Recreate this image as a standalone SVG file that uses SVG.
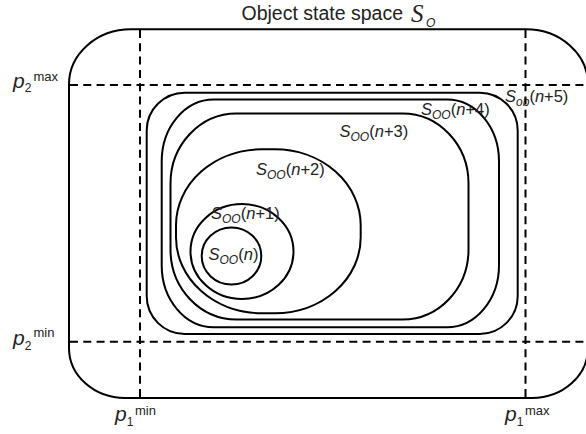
<svg xmlns="http://www.w3.org/2000/svg" width="586" height="434" viewBox="0 0 586 434">
<style>
.shape{fill:none;stroke:#000;stroke-width:2}
.dash{fill:none;stroke:#000;stroke-width:2;stroke-dasharray:8 5.3}
text{font-family:"Liberation Sans",Arial,sans-serif;fill:#222}
.lbl{font-size:16.5px}
.it{font-style:italic}
.sub{font-size:12px;font-style:italic}
.p{font-size:21px;font-style:italic}
.ps{font-size:12px}
.sup{font-size:13px}
</style>
<rect width="586" height="434" fill="#fff"/>
<text x="241.5" y="19.5" font-size="19.5">Object state space <tspan x="411" y="22" font-family="Liberation Serif,serif" font-size="25" font-style="italic">S</tspan><tspan x="426" y="27" font-size="12" font-style="italic">O</tspan></text>

<g id="outer-space">
<path class="shape" d="M131,29.3 H526 A62 55 0 0 1 588 84.3 V348 A56 50 0 0 1 532 398 H125 A56 50 0 0 1 69 348 V84.3 A62 55 0 0 1 131 29.3 Z"/>
</g>
<g id="bounds">
<line class="dash" x1="140" y1="30" x2="140" y2="397"/>
<line class="dash" x1="525.5" y1="30" x2="525.5" y2="397"/>
<line class="dash" x1="70" y1="85" x2="586" y2="85"/>
<line class="dash" x1="70" y1="341.7" x2="586" y2="341.7"/>
</g>
<g id="s-ob-n5"><rect class="shape" x="146.7" y="92.7" width="371" height="241.3" rx="38" ry="38"/></g>
<g id="s-oo-n4"><rect class="shape" x="161.7" y="99.5" width="337.3" height="227.8" rx="52" ry="62"/></g>
<g id="s-oo-n3"><rect class="shape" x="170.5" y="113.5" width="298" height="206" rx="66" ry="70"/></g>
<g id="s-oo-n2"><rect class="shape" x="176" y="149.3" width="184.7" height="164" rx="86" ry="76"/></g>
<g id="s-oo-n1"><ellipse class="shape" cx="242" cy="251.5" rx="51.5" ry="47.5"/></g>
<g id="s-oo-n"><ellipse class="shape" cx="231.5" cy="256" rx="29.8" ry="28.5"/></g>

<g id="labels">
<text class="lbl" x="505" y="102"><tspan class="it">S</tspan><tspan class="sub" dy="4">ob</tspan><tspan dy="-4">(</tspan><tspan class="it">n</tspan>+5)</text>
<text class="lbl" x="421" y="115"><tspan class="it">S</tspan><tspan class="sub" dy="4">OO</tspan><tspan dy="-4">(</tspan><tspan class="it">n</tspan>+4)</text>
<text class="lbl" x="339.5" y="137"><tspan class="it">S</tspan><tspan class="sub" dy="4">OO</tspan><tspan dy="-4">(</tspan><tspan class="it">n</tspan>+3)</text>
<text class="lbl" x="256" y="175"><tspan class="it">S</tspan><tspan class="sub" dy="4">OO</tspan><tspan dy="-4">(</tspan><tspan class="it">n</tspan>+2)</text>
<text class="lbl" x="211" y="218.5"><tspan class="it">S</tspan><tspan class="sub" dy="4">OO</tspan><tspan dy="-4">(</tspan><tspan class="it">n</tspan>+1)</text>
<text class="lbl" x="208.5" y="259.5"><tspan class="it">S</tspan><tspan class="sub" dy="4">OO</tspan><tspan dy="-4">(</tspan><tspan class="it">n</tspan>)</text>
</g>

<g id="axis-labels">
<text x="13" y="87.5"><tspan class="p">p</tspan><tspan class="ps" dy="4.5">2</tspan><tspan class="sup" x="33.5" y="81">max</tspan></text>
<text x="13" y="345"><tspan class="p">p</tspan><tspan class="ps" dy="4.5">2</tspan><tspan class="sup" x="33.5" y="337">min</tspan></text>
<text x="115" y="421"><tspan class="p">p</tspan><tspan class="ps" dy="4.5">1</tspan><tspan class="sup" x="135" y="415">min</tspan></text>
<text x="505" y="421"><tspan class="p">p</tspan><tspan class="ps" dy="4.5">1</tspan><tspan class="sup" x="525" y="415">max</tspan></text>
</g>
</svg>
